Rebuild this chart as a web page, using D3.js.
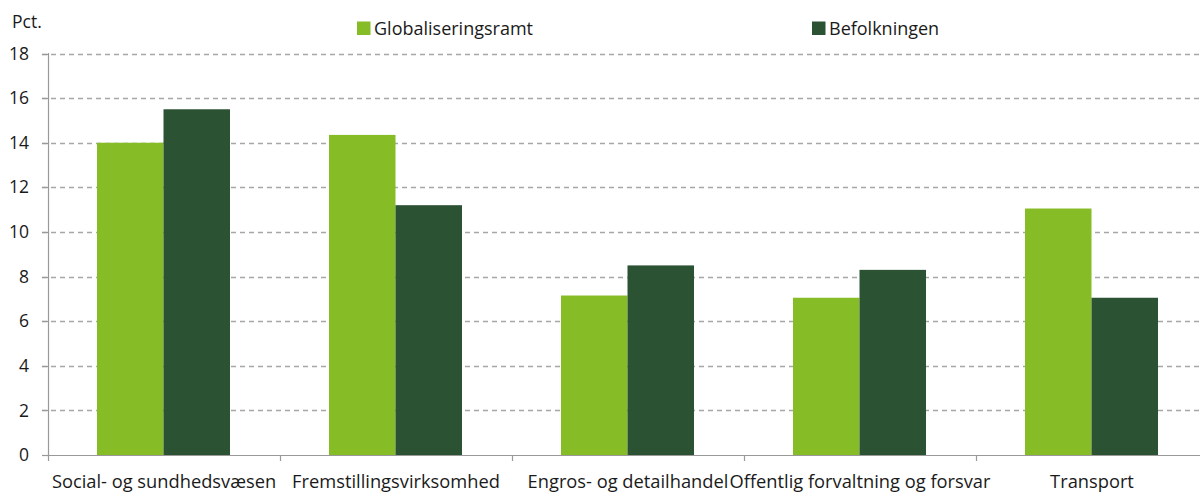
<!DOCTYPE html>
<html><head><meta charset="utf-8">
<script src="https://cdn.jsdelivr.net/npm/d3@7"></script>
<style>body{margin:0;background:#fff}svg{display:block;font-family:"Open Sans",sans-serif}</style>
</head><body><svg id="c" width="1200" height="495"></svg>
<script>
const categories = ["Social- og sundhedsvæsen","Fremstillingsvirksomhed","Engros- og detailhandel","Offentlig forvaltning og forsvar","Transport"];
const seriesNames = ["Globaliseringsramt","Befolkningen"];
const globaliseringsramt = [14.0, 14.35, 7.15, 7.05, 11.05];
const befolkningen = [15.5, 11.2, 8.5, 8.3, 7.05];
const yTicks = [0,2,4,6,8,10,12,14,16,18];
const colors = ["#86bc25","#2c5234"];

const svg = d3.select("#c");
const x0 = d3.scaleBand().domain(categories).range([48, 1208]).paddingInner(0).paddingOuter(0);
const x1 = d3.scaleBand().domain(seriesNames).range([49, 182]).padding(0);
const y = d3.scaleLinear().domain([0,18]).range([455, 53.5]);

// grid
svg.append("g").selectAll("line").data(yTicks.filter(d=>d>0)).join("line")
  .attr("x1",42).attr("x2",1200).attr("y1",d=>Math.round(y(d))+0.5).attr("y2",d=>Math.round(y(d))+0.5)
  .attr("stroke","#a6a6a6").attr("stroke-width",1.3).attr("stroke-dasharray","5,4");

// y tick labels
svg.append("g").selectAll("text").data(yTicks).join("text")
  .attr("x",29).attr("y",d=>y(d)).attr("dy","0.35em").attr("text-anchor","end")
  .attr("font-size",17.5).attr("fill","#1a1a1a").text(d=>d);
svg.append("text").attr("x",12).attr("y",28).attr("font-size",17.5).attr("fill","#1a1a1a").text("Pct.");

// bars
const data = categories.map((c,i)=>({c, vals:[globaliseringsramt[i], befolkningen[i]]}));
const g = svg.append("g").selectAll("g").data(data).join("g")
  .attr("transform",d=>`translate(${x0(d.c)},0)`);
g.selectAll("rect").data(d=>d.vals.map((v,j)=>({v,s:seriesNames[j],j}))).join("rect")
  .attr("x",d=>x1(d.s)).attr("width",x1.bandwidth())
  .attr("y",d=>y(d.v)).attr("height",d=>y(0)-y(d.v))
  .attr("fill",d=>colors[d.j]);

// axes lines
svg.append("line").attr("x1",48.5).attr("x2",48.5).attr("y1",53).attr("y2",455).attr("stroke","#999").attr("stroke-width",1.2);
svg.append("line").attr("x1",42).attr("x2",1200).attr("y1",455.5).attr("y2",455.5).attr("stroke","#999").attr("stroke-width",1.2);
// y ticks
svg.append("g").selectAll("line").data(yTicks).join("line")
  .attr("x1",42).attr("x2",48).attr("y1",d=>Math.round(y(d))+0.5).attr("y2",d=>Math.round(y(d))+0.5)
  .attr("stroke","#999").attr("stroke-width",1.2);
// x ticks at band boundaries
svg.append("g").selectAll("line").data(categories).join("line")
  .attr("x1",d=>x0(d)+0.5).attr("x2",d=>x0(d)+0.5).attr("y1",455).attr("y2",461)
  .attr("stroke","#999").attr("stroke-width",1.2);
// x labels
svg.append("g").selectAll("text").data(categories).join("text")
  .attr("x",d=>x0(d)+x0.bandwidth()/2).attr("y",488).attr("text-anchor","middle")
  .attr("font-size",18.3).attr("fill","#1a1a1a").text(d=>d);

// legend
const legX = [357, 812];
const lg = svg.append("g").selectAll("g").data(seriesNames).join("g")
  .attr("transform",(d,i)=>`translate(${legX[i]},0)`);
lg.append("rect").attr("x",0).attr("y",21.5).attr("width",13.5).attr("height",13.5).attr("fill",(d,i)=>colors[i]);
lg.append("text").attr("x",17).attr("y",35).attr("font-size",18).attr("fill","#1a1a1a").text(d=>d);
</script></body></html>
